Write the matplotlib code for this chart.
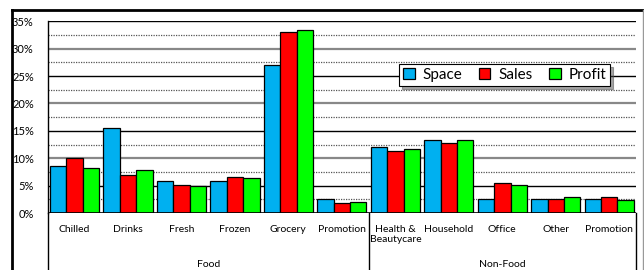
import numpy as np
import matplotlib
matplotlib.use("Agg")
import matplotlib.pyplot as plt
from matplotlib.lines import Line2D

plt.rcParams['font.family'] = ['Lato', 'DejaVu Sans']

# data (percent)
categories = ["Chilled", "Drinks", "Fresh", "Frozen", "Grocery", "Promotion",
              "Health &\nBeautycare", "Household", "Office", "Other", "Promotion"]
groups = ["Food", "Non-Food"]
group_sizes = [6, 5]
space = [8.6, 15.5, 5.9, 5.9, 27.0, 2.55, 12.0, 13.4, 2.55, 2.55, 2.55]
sales = [10.0, 6.9, 5.05, 6.6, 33.0, 1.8, 11.25, 12.8, 5.5, 2.55, 2.9]
profit = [8.3, 7.8, 4.9, 6.45, 33.45, 2.0, 11.7, 13.3, 5.05, 2.9, 2.3]
series_names = ["Space", "Sales", "Profit"]
colors = ["#00B0F0", "#FF0000", "#00FF00"]

W, H = 644, 270
fig = plt.figure(figsize=(W / 100, H / 100), dpi=100)

# plot area in pixels
x0, x1 = 47.7, 636
y_top, y_bot = 21.3, 213
ax = fig.add_axes([x0 / W, 1 - y_bot / H, (x1 - x0) / W, (y_bot - y_top) / H])

x = np.arange(len(categories))
bw = 0.307
for i, (vals, name, c) in enumerate(zip([space, sales, profit], series_names, colors)):
    ax.bar(x + (i - 1) * bw, vals, width=bw, color=c, edgecolor="black",
           linewidth=0.9, label=name, zorder=3)

ax.set_xlim(-0.5, len(categories) - 0.5)
ax.set_ylim(0, 35)

# gridlines: dotted minor, alternating black / grey majors
for yv in np.arange(2.5, 35, 5):
    ax.axhline(yv, color="#555555", lw=0.9, ls=(0, (1, 1)), zorder=1)
for yv in [5, 15, 25, 35]:
    ax.axhline(yv, color="black", lw=1.0, zorder=1)
for yv in [10, 20, 30]:
    ax.axhline(yv, color="#888888", lw=1.6, zorder=1)

ax.set_yticks(np.arange(0, 36, 5))
ax.set_yticklabels([f"{v}%" for v in range(0, 36, 5)], fontsize=8)
ax.tick_params(axis="y", length=0, pad=10)
ax.set_xticks([])
for s in ["top", "right", "bottom"]:
    ax.spines[s].set_visible(False)
ax.spines["left"].set_linewidth(1.0)
ax.axhline(0, color="black", lw=1.2, zorder=4)

# category and group labels
tr = ax.get_xaxis_transform()
for xi, lab in zip(x, categories):
    ax.text(xi, -0.06, lab, transform=tr, ha="center", va="top",
            fontsize=7.5, linespacing=1.15)

edges = [-0.5]
for n in group_sizes:
    edges.append(edges[-1] + n)
for e in edges:
    ax.plot([e, e], [0, -0.32], transform=tr, color="black", lw=1.0, clip_on=False)
for g, a, b in zip(groups, edges[:-1], edges[1:]):
    ax.text((a + b) / 2, -0.27, g, transform=tr, ha="center", va="center", fontsize=7.5)

leg = ax.legend(loc="upper left", bbox_to_anchor=(0.585, 0.815), ncol=3,
                fontsize=11, frameon=True, fancybox=False, shadow=True,
                edgecolor="black", handlelength=0.75, handleheight=0.75,
                columnspacing=1.1, handletextpad=0.5, borderpad=0.25)
leg.get_frame().set_linewidth(0.8)
leg.set_zorder(5)

# outer chart frame
fig.add_artist(Line2D([12 / W, 12 / W], [0, 1 - 10 / H], color="black", lw=2))
fig.add_artist(Line2D([12 / W, 643 / W], [1 - 10 / H, 1 - 10 / H], color="black", lw=2))
fig.add_artist(Line2D([643 / W, 643 / W], [0, 1 - 10 / H], color="#999999", lw=1))

fig.savefig("out.png", dpi=100)
